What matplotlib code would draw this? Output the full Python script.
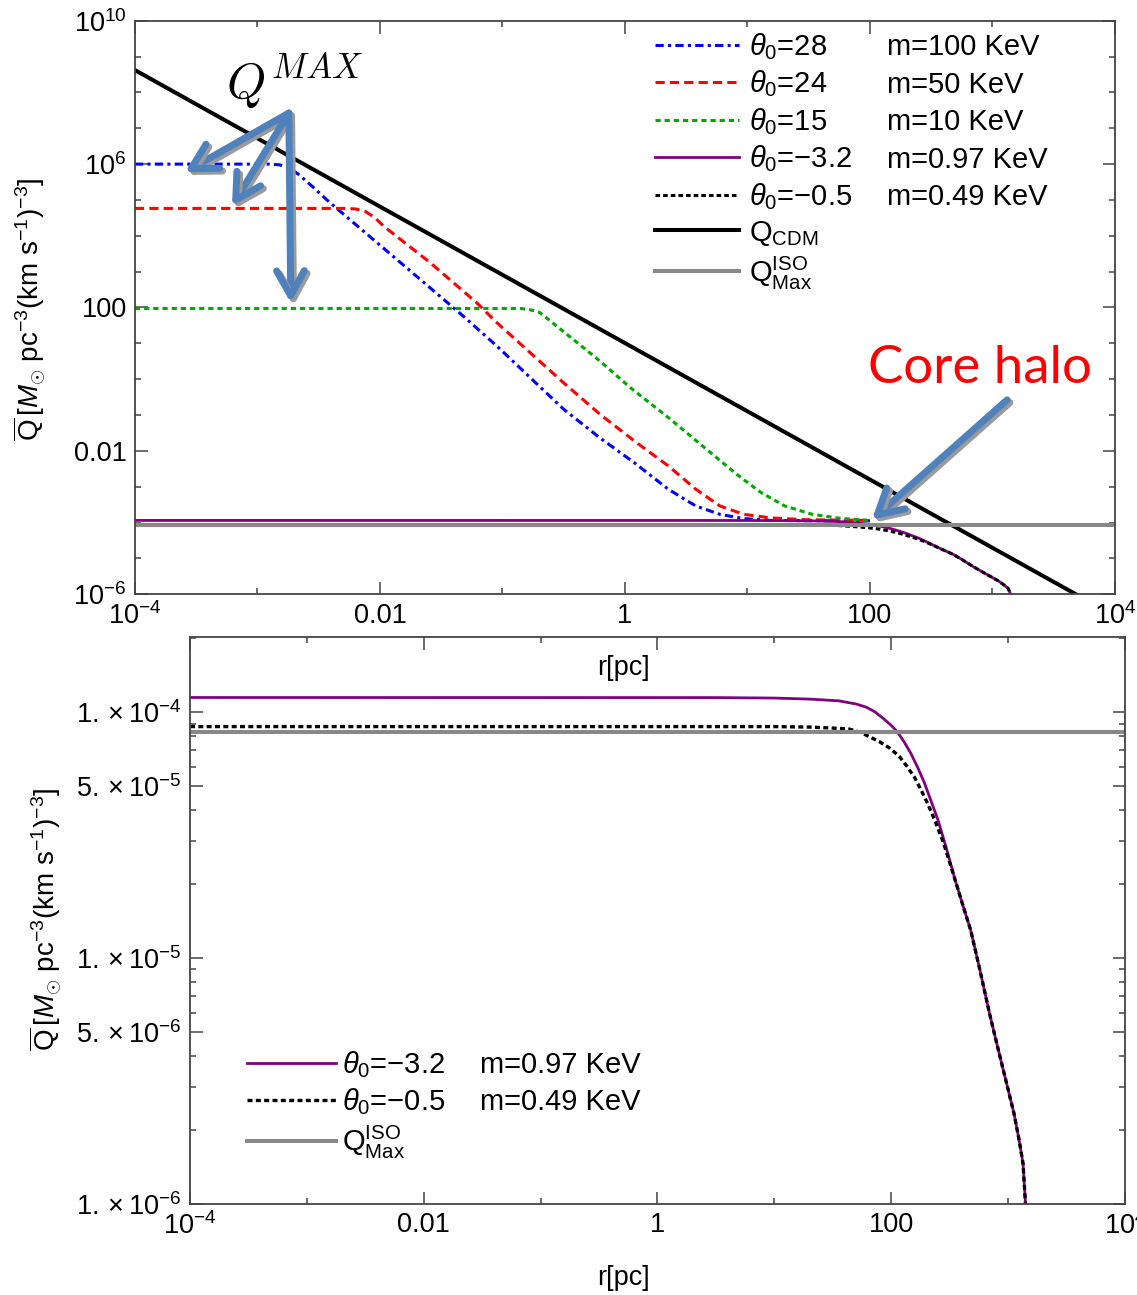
import matplotlib
matplotlib.use("Agg")
import matplotlib.pyplot as plt
import matplotlib.patheffects as pe
from matplotlib.ticker import NullFormatter

plt.rcParams["font.family"] = ["Liberation Sans", "DejaVu Sans"]
plt.rcParams["mathtext.fontset"] = "custom"
plt.rcParams["mathtext.rm"] = "Liberation Sans"
plt.rcParams["mathtext.it"] = "Liberation Sans:italic"
plt.rcParams["mathtext.bf"] = "Liberation Sans:bold"
plt.rcParams["mathtext.sf"] = "Liberation Sans"

# ---- data (r in pc, Q in Msun pc^-3 (km/s)^-3) ----
r_blue = [1e-4, 1.26e-3, 1.51e-3, 1.82e-3, 2.19e-3, 2.82e-3, 3.89e-3, 1.37e-2, 4.8e-2,
          9.0e-2, 0.316, 0.625, 1.19, 2.26, 3.79, 5.96, 9.33, 15.5, 30.0, 100.0]
Q_blue = [1.0e6, 1.0e6, 9.55e5, 7.94e5, 5.01e5, 2.34e5, 8.5e4, 2.2e3, 57.0,
          8.4, 0.145, 2.3e-2, 4.7e-3, 8.5e-4, 2.9e-4, 1.7e-4, 1.29e-4, 1.15e-4, 1.13e-4, 1.12e-4]

r_red = [1e-4, 5.01e-3, 6.31e-3, 7.59e-3, 9.12e-3, 1.07e-2, 2.57e-2, 6.17e-2, 8.97e-2,
         0.316, 0.625, 1.19, 2.26, 3.79, 5.96, 9.33, 15.5, 29.8, 100.0]
Q_red = [5.81e4, 5.81e4, 5.62e4, 4.79e4, 3.16e4, 1.86e4, 1.78e3, 135.0, 38.0,
         0.79, 0.105, 1.9e-2, 3.8e-3, 8.5e-4, 2.9e-4, 1.7e-4, 1.35e-4, 1.2e-4, 1.15e-4]

r_green = [1e-4, 0.14, 0.166, 0.182, 0.202, 0.378, 0.625, 1.12, 2.26, 4.31, 8.2,
           12.9, 20.2, 33.8, 56.6, 100.0]
Q_green = [94.0, 94.0, 87.0, 81.0, 72.0, 12.9, 3.2, 0.56, 8.5e-2, 1.36e-2, 2.2e-3,
           6.9e-4, 2.9e-4, 1.7e-4, 1.32e-4, 1.14e-4]

r_purple = [1e-4, 3.16, 10.0, 19.95, 35.5, 50.1, 61.1, 72.4, 85.1, 100.0, 112.2,
            128.8, 146.9, 169.8, 192.8, 218.8, 251.2, 295.1, 352.4, 407.4, 478.6,
            575.4, 693.4, 831.8, 1004.6, 1122.0, 1230.0, 1343.0, 1409.0, 1419.0]
Q_purple = [1.149e-4, 1.148e-4, 1.143e-4, 1.132e-4, 1.114e-4, 1.081e-4, 1.05e-4,
            1.005e-4, 9.46e-5, 8.85e-5, 8.36e-5, 7.59e-5, 6.82e-5, 5.92e-5, 5.15e-5,
            4.37e-5, 3.65e-5, 2.82e-5, 2.08e-5, 1.66e-5, 1.30e-5, 8.91e-6, 5.96e-6,
            4.17e-6, 2.90e-6, 2.34e-6, 1.87e-6, 1.46e-6, 1.0e-6, 7.9e-7]

r_black = [1e-4, 10.0, 19.95, 31.6, 43.7, 55.0, 64.9, 79.4, 97.7, 117.5, 137.1,
           158.5, 180.3, 204.2, 235.5, 281.8, 352.4, 407.4, 478.6, 575.4, 693.4,
           831.8, 1004.6, 1122.0, 1230.0, 1343.0, 1409.0, 1419.0]
Q_black = [8.75e-5, 8.75e-5, 8.71e-5, 8.63e-5, 8.55e-5, 8.28e-5, 7.96e-5, 7.59e-5,
           7.14e-5, 6.61e-5, 6.01e-5, 5.43e-5, 4.83e-5, 4.27e-5, 3.65e-5, 2.92e-5,
           2.08e-5, 1.66e-5, 1.30e-5, 8.91e-6, 5.96e-6, 4.17e-6, 2.90e-6, 2.34e-6,
           1.87e-6, 1.46e-6, 1.0e-6, 7.9e-7]

r_cdm = [1e-4, 4.8e3]
Q_cdm = [4.19e8, 1.0e-6]

r_iso = [1e-4, 1e4]
Q_iso = [8.3e-5, 8.3e-5]

theta_labels = [r"$\theta_0$=28", r"$\theta_0$=24", r"$\theta_0$=15",
                r"$\theta_0$=$-$3.2", r"$\theta_0$=$-$0.5"]
mass_labels = ["m=100 KeV", "m=50 KeV", "m=10 KeV", "m=0.97 KeV", "m=0.49 KeV"]

x_major = [1e-4, 1e-2, 1.0, 1e2, 1e4]
x_minor = [1e-3, 1e-1, 1e1, 1e3]
x_labels = [r"$10^{-4}$", "0.01", "1", "100", r"$10^{4}$"]
top_y_major = [1e-6, 1e-2, 1e2, 1e6, 1e10]
top_y_minor = [10.0 ** k for k in range(-5, 10) if k not in (-2, 2, 6)]
top_y_labels = [r"$10^{-6}$", "0.01", "100", r"$10^{6}$", r"$10^{10}$"]
bot_y_major = [1e-6, 5e-6, 1e-5, 5e-5, 1e-4]
bot_y_minor = [m * 10.0 ** k for k in (-6, -5, -4) for m in (2, 3, 4, 6, 7, 8, 9)]
bot_y_labels = [r"$1.\times10^{-6}$", r"$5.\times10^{-6}$", r"$1.\times10^{-5}$",
                r"$5.\times10^{-5}$", r"$1.\times10^{-4}$"]

# ---- styles ----
C_BLUE, C_RED, C_GREEN = "#0000ff", "#ff0000", "#00a800"
C_PURPLE, C_GRAY, C_ARROW = "#800080", "#888888", "#4f81bd"
FRAME = "#444444"
TICK_FS, LEG_FS, LAB_FS = 19.5, 21, 20
YLABEL = r"$\overline{\mathrm{Q}}\,[M_{\odot}\ \mathrm{pc}^{-3}(\mathrm{km\ s}^{-1})^{-3}]$"

fig = plt.figure(figsize=(11.37, 12.95), dpi=100)
ax1 = fig.add_axes((0.1187, 0.5411, 0.8619, 0.4429))
ax2 = fig.add_axes((0.1671, 0.0703, 0.8223, 0.4376))


def frame(ax, ymaj, ymin, ylab):
    ax.set_xscale("log")
    ax.set_yscale("log")
    ax.set_xlim(1e-4, 1e4)
    ax.set_xticks(x_major, x_labels)
    ax.set_xticks(x_minor, minor=True)
    ax.set_yticks(ymaj, ylab)
    ax.set_yticks(ymin, minor=True)
    ax.xaxis.set_minor_formatter(NullFormatter())
    ax.yaxis.set_minor_formatter(NullFormatter())
    ax.tick_params(which="both", direction="in", top=True, right=True,
                   colors=FRAME, labelcolor="black", labelsize=TICK_FS, width=1.1)
    ax.tick_params(which="major", length=9, pad=6)
    ax.tick_params(which="minor", length=4.5)
    for s in ax.spines.values():
        s.set_color(FRAME)
        s.set_linewidth(1.3)


# ---- top panel ----
frame(ax1, top_y_major, top_y_minor, top_y_labels)
ax1.set_ylim(1e-6, 1e10)
l_blue, = ax1.plot(r_blue, Q_blue, color=C_BLUE, lw=2.2, ls=(0, (2.7, 1.4, 1.0, 1.4)))
l_red, = ax1.plot(r_red, Q_red, color=C_RED, lw=2.2, ls=(0, (3.0, 1.7)))
l_green, = ax1.plot(r_green, Q_green, color=C_GREEN, lw=2.2, ls=(0, (1.7, 1.3)))
l_purple, = ax1.plot(r_purple, Q_purple, color=C_PURPLE, lw=2.0)
l_black, = ax1.plot(r_black, Q_black, color="black", lw=2.2, ls=(0, (1.5, 1.0)))
l_cdm, = ax1.plot(r_cdm, Q_cdm, color="black", lw=2.9)
l_iso, = ax1.plot(r_iso, Q_iso, color=C_GRAY, lw=2.9)

leg1 = ax1.legend([l_blue, l_red, l_green, l_purple, l_black, l_cdm, l_iso],
                  theta_labels + [r"$\mathrm{Q}_{\mathrm{CDM}}$",
                                  r"$\mathrm{Q}^{\mathrm{ISO}}_{\mathrm{Max}}$"],
                  loc="upper left", bbox_to_anchor=(0.576, 0.976),
                  bbox_transform=fig.transFigure, frameon=False, fontsize=LEG_FS,
                  handlelength=2.9, handletextpad=0.34, labelspacing=0.23,
                  borderpad=0, borderaxespad=0)

shadow = [pe.SimpleLineShadow(offset=(2, -2), shadow_color="#9a9a9a", alpha=1.0), pe.Normal()]
arrow_style = dict(arrowstyle="->,head_length=0.9,head_width=0.5", lw=5,
                   color=C_ARROW, shrinkA=0, shrinkB=0, mutation_scale=20)
for tip in [(0.051, 0.736), (0.099, 0.677), (0.159, 0.508)]:
    a = ax1.annotate("", xy=tip, xytext=(0.157, 0.839), xycoords="axes fraction",
                     arrowprops=arrow_style)
    a.arrow_patch.set_path_effects(shadow)
a = ax1.annotate("", xy=(0.752, 0.130), xytext=(0.890, 0.339), xycoords="axes fraction",
                 arrowprops=arrow_style)
a.arrow_patch.set_path_effects(shadow)

ax1.text(0.163, 0.895, r"$Q^{MAX}$", transform=ax1.transAxes, fontsize=36,
         math_fontfamily="cm", ha="center", va="center")
ax1.text(0.862, 0.394, "Core halo", transform=ax1.transAxes, fontsize=38,
         family="Lato", color=C_RED, ha="center", va="center")

# ---- bottom panel ----
frame(ax2, bot_y_major, bot_y_minor, bot_y_labels)
ax2.set_ylim(1e-6, 2.02e-4)
b_purple, = ax2.plot(r_purple, Q_purple, color=C_PURPLE, lw=2.0)
b_black, = ax2.plot(r_black, Q_black, color="black", lw=2.4, ls=(0, (1.5, 1.0)))
b_iso, = ax2.plot(r_iso, Q_iso, color=C_GRAY, lw=2.9)
leg2 = ax2.legend([b_purple, b_black, b_iso],
                  theta_labels[3:] + [r"$\mathrm{Q}^{\mathrm{ISO}}_{\mathrm{Max}}$"],
                  loc="upper left", bbox_to_anchor=(0.217, 0.190),
                  bbox_transform=fig.transFigure, frameon=False, fontsize=LEG_FS,
                  handlelength=3.05, handletextpad=0.22, labelspacing=0.23,
                  borderpad=0, borderaxespad=0)

# axis labels
fig.text(0.026, 0.761, YLABEL, rotation=90, fontsize=LAB_FS, ha="center", va="center")
fig.text(0.040, 0.290, YLABEL, rotation=90, fontsize=LAB_FS, ha="center", va="center")
fig.text(0.548, 0.484, "r[pc]", fontsize=TICK_FS, ha="center", va="center")
fig.text(0.548, 0.013, "r[pc]", fontsize=TICK_FS, ha="center", va="center")

# second legend column (masses), baseline-aligned with the theta labels
fig.canvas.draw()
renderer = fig.canvas.get_renderer()
H = fig.bbox.height


def mass_column(leg, labels, xfig):
    for txt, lab in zip(leg.get_texts(), labels):
        bb = txt.get_window_extent(renderer)
        _, _, d = renderer.get_text_width_height_descent(
            txt.get_text(), txt.get_fontproperties(), ismath=True)
        fig.text(xfig, (bb.y0 + d) / H, lab, fontsize=LEG_FS, va="baseline", ha="left")


mass_column(leg1, mass_labels, 0.780)
mass_column(leg2, mass_labels[3:], 0.422)

fig.savefig("out.png", dpi=100)
